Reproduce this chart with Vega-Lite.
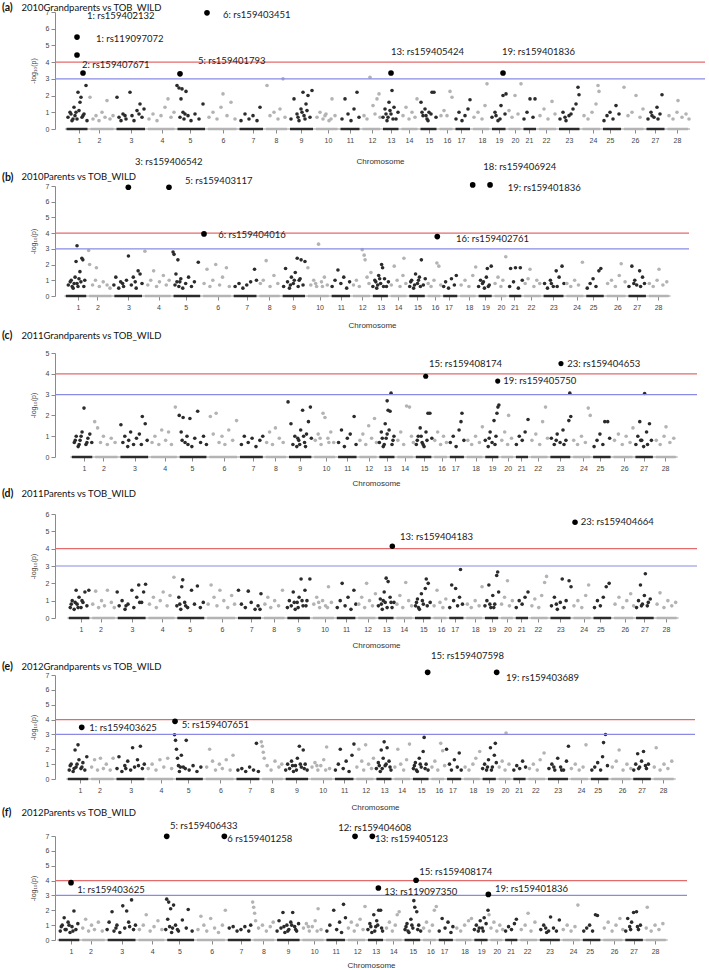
{
"$schema": "https://vega.github.io/schema/vega-lite/v6.json",
"padding": {"left": 2, "top": 2, "right": 2, "bottom": 0},
"bounds": "flush",
"spacing": 57,
"config": {
 "font": "Lato",
 "view": {"stroke": null},
 "axisX": {"domain": false, "grid": false, "tickSize": 4, "tickColor": "#8a8a8a", "labelFontSize": 7, "labelColor": "#444", "labelPadding": 3, "titleFontSize": 8, "titleFontWeight": "normal", "titleColor": "#333", "labelFont": "Liberation Sans", "titleFont": "Liberation Sans", "labelFlush": false, "labelOverlap": false},
 "axisY": {"grid": false, "tickSize": 4, "tickColor": "#8a8a8a", "domainColor": "#8a8a8a", "labelFontSize": 7, "labelColor": "#444", "labelPadding": 2, "titleFontSize": 7, "titleFontWeight": "normal", "titleColor": "#444", "titlePadding": 9, "labelFont": "Liberation Sans", "titleFont": "Liberation Sans", "labelOverlap": false},
 "title": {"anchor": "start", "frame": "group", "dx": -53, "font": "Lato", "fontSize": 10.5, "fontWeight": "bold", "color": "#111", "subtitleFont": "Lato", "subtitleFontSize": 9.5, "subtitleColor": "#111", "subtitlePadding": -11}
},
"datasets": {
"seg": [{"x":11.5,"x2":32.5},{"x":35.5,"x2":58.5},{"x":61.5,"x2":90},{"x":93,"x2":119.5},{"x":122.5,"x2":150},{"x":153,"x2":181.5},{"x":184.5,"x2":208},{"x":211,"x2":232},{"x":235,"x2":258},{"x":261,"x2":282.5},{"x":285.5,"x2":304.5},{"x":307.5,"x2":325},{"x":328,"x2":343.5},{"x":346.5,"x2":362.5},{"x":365.5,"x2":381.5},{"x":384.5,"x2":397.5},{"x":400.5,"x2":415},{"x":418,"x2":434},{"x":437,"x2":450.5},{"x":453.5,"x2":465.5},{"x":468.5,"x2":481},{"x":484,"x2":501},{"x":504,"x2":524.5},{"x":527.5,"x2":545},{"x":548,"x2":566},{"x":569,"x2":588.5},{"x":591.5,"x2":609.5},{"x":612.5,"x2":633}],
"pa": [{"x":13,"y":0.7},{"x":15,"y":1.0},{"x":17,"y":0.5},{"x":19,"y":1.3},{"x":20,"y":0.8},{"x":22,"y":0.6},{"x":23,"y":2.2},{"x":24,"y":1.1},{"x":25,"y":1.6},{"x":26,"y":1.9},{"x":27,"y":0.7},{"x":29,"y":0.9},{"x":31,"y":2.6},{"x":32,"y":0.5},{"x":16,"y":0.9},{"x":18,"y":0.6},{"x":21,"y":1.0},{"x":28,"y":0.8},
{"x":35,"y":1.9},{"x":38,"y":0.6},{"x":41,"y":0.8},{"x":44,"y":0.5},{"x":47,"y":1.0},{"x":50,"y":0.7},{"x":52,"y":1.7},{"x":55,"y":0.6},{"x":58,"y":0.8},
{"x":62,"y":1.9},{"x":64,"y":0.7},{"x":66,"y":0.5},{"x":68,"y":0.9},{"x":71,"y":0.6},{"x":75,"y":2.2},{"x":77,"y":0.8},{"x":79,"y":0.5},{"x":82,"y":1.1},{"x":85,"y":1.5},{"x":87,"y":0.7},{"x":89,"y":1.2},{"x":70,"y":0.8},{"x":84,"y":0.9},
{"x":94,"y":0.6},{"x":98,"y":0.9},{"x":102,"y":0.5},{"x":106,"y":0.8},{"x":110,"y":1.3},{"x":113,"y":1.8},{"x":116,"y":0.7},{"x":119,"y":1.0},
{"x":122,"y":2.6},{"x":124,"y":2.45},{"x":126,"y":1.8},{"x":127,"y":2.4},{"x":128,"y":1.0},{"x":129,"y":0.6},{"x":131,"y":2.25},{"x":133,"y":0.8},{"x":136,"y":0.5},{"x":140,"y":0.9},{"x":144,"y":0.6},{"x":148,"y":1.5},{"x":125,"y":0.7},{"x":130,"y":0.9},
{"x":154,"y":0.7},{"x":158,"y":1.0},{"x":162,"y":0.6},{"x":166,"y":1.3},{"x":168,"y":2.1},{"x":172,"y":0.8},{"x":176,"y":1.6},{"x":180,"y":0.6},
{"x":186,"y":0.5},{"x":190,"y":0.9},{"x":194,"y":0.6},{"x":198,"y":0.8},{"x":202,"y":0.5},{"x":205,"y":1.3},
{"x":212,"y":2.6},{"x":215,"y":0.8},{"x":219,"y":1.0},{"x":223,"y":0.6},{"x":225,"y":1.2},{"x":228,"y":3.0},{"x":230,"y":0.7},
{"x":236,"y":0.6},{"x":239,"y":1.8},{"x":242,"y":0.9},{"x":244,"y":0.5},{"x":246,"y":1.2},{"x":248,"y":2.2},{"x":249,"y":0.8},{"x":251,"y":1.5},{"x":253,"y":2.0},{"x":255,"y":0.7},{"x":257,"y":2.3},{"x":243,"y":0.7},{"x":247,"y":1.0},{"x":250,"y":0.6},{"x":252,"y":1.1},
{"x":262,"y":0.7},{"x":265,"y":1.0},{"x":268,"y":0.6},{"x":271,"y":0.9},{"x":274,"y":0.5},{"x":277,"y":1.8},{"x":280,"y":0.8},{"x":270,"y":0.8},{"x":276,"y":0.6},
{"x":287,"y":0.6},{"x":290,"y":1.8},{"x":293,"y":0.9},{"x":296,"y":0.5},{"x":299,"y":1.2},{"x":302,"y":2.2},{"x":304,"y":0.7},
{"x":309,"y":0.8},{"x":312,"y":0.6},{"x":315,"y":3.1},{"x":318,"y":1.4},{"x":320,"y":0.9},{"x":322,"y":1.8},{"x":324,"y":2.1},{"x":325,"y":0.7},
{"x":328,"y":0.7},{"x":330,"y":1.2},{"x":332,"y":0.5},{"x":334,"y":1.6},{"x":336,"y":0.9},{"x":337,"y":2.3},{"x":339,"y":1.3},{"x":341,"y":0.6},{"x":343,"y":1.0},{"x":331,"y":0.9},{"x":333,"y":0.7},{"x":335,"y":1.1},{"x":338,"y":0.6},
{"x":348,"y":0.8},{"x":351,"y":1.3},{"x":354,"y":0.6},{"x":357,"y":1.0},{"x":360,"y":0.7},{"x":362,"y":1.8},
{"x":366,"y":1.6},{"x":368,"y":0.8},{"x":370,"y":1.2},{"x":372,"y":0.6},{"x":374,"y":1.0},{"x":377,"y":2.2},{"x":379,"y":2.2},{"x":381,"y":0.7},{"x":367,"y":1.0},{"x":371,"y":0.8},{"x":373,"y":0.5},{"x":376,"y":0.9},
{"x":386,"y":0.8},{"x":389,"y":1.1},{"x":392,"y":0.8},{"x":395,"y":2.25},{"x":397,"y":1.9},
{"x":401,"y":0.6},{"x":404,"y":1.0},{"x":407,"y":0.5},{"x":410,"y":0.8},{"x":413,"y":1.2},{"x":415,"y":1.75},
{"x":419,"y":0.7},{"x":423,"y":1.0},{"x":427,"y":0.6},{"x":430,"y":1.4},{"x":432,"y":2.7},
{"x":437,"y":0.7},{"x":440,"y":1.0},{"x":443,"y":0.5},{"x":446,"y":1.4},{"x":448,"y":2.0},{"x":450,"y":0.9},{"x":451,"y":2.1},{"x":441,"y":0.8},{"x":445,"y":0.6},
{"x":454,"y":1.1},{"x":457,"y":0.7},{"x":460,"y":2.0},{"x":463,"y":0.9},{"x":466,"y":2.7},
{"x":469,"y":0.6},{"x":472,"y":1.0},{"x":475,"y":1.8},{"x":478,"y":0.7},{"x":480,"y":1.8},
{"x":485,"y":0.8},{"x":489,"y":1.2},{"x":493,"y":0.6},{"x":497,"y":1.65},{"x":500,"y":0.9},
{"x":505,"y":0.6},{"x":508,"y":1.0},{"x":511,"y":0.5},{"x":514,"y":0.8},{"x":518,"y":1.2},{"x":521,"y":1.5},{"x":523,"y":2.5},{"x":524,"y":2.05},{"x":510,"y":0.7},{"x":516,"y":0.9},
{"x":529,"y":0.8},{"x":533,"y":0.6},{"x":537,"y":1.0},{"x":541,"y":1.5},{"x":543,"y":2.6},{"x":544,"y":2.25},
{"x":549,"y":0.5},{"x":552,"y":0.8},{"x":555,"y":1.0},{"x":558,"y":0.6},{"x":561,"y":1.4},{"x":564,"y":0.9},
{"x":569,"y":2.5},{"x":573,"y":0.8},{"x":577,"y":1.0},{"x":581,"y":2.0},{"x":585,"y":0.7},{"x":588,"y":1.2},
{"x":593,"y":0.6},{"x":596,"y":1.0},{"x":599,"y":0.7},{"x":602,"y":1.3},{"x":605,"y":0.9},{"x":607,"y":2.05},{"x":597,"y":0.8},{"x":603,"y":0.6},
{"x":614,"y":0.8},{"x":618,"y":0.6},{"x":622,"y":1.0},{"x":623,"y":1.7},{"x":627,"y":0.7},{"x":631,"y":0.9},{"x":634,"y":0.6}],
"ha": [{"x":22,"y":5.5},{"x":22,"y":4.43},{"x":28,"y":3.35},{"x":125,"y":3.3},{"x":152,"y":6.95},{"x":336,"y":3.35},{"x":448,"y":3.35}],
"la": [{"t":"1: rs159402132","x":32,"y":6.76},{"t":"6: rs159403451","x":168,"y":6.82},{"t":"1: rs119097072","x":41,"y":5.39},{"t":"2: rs159407671","x":27,"y":3.83},{"t":"5: rs159401793","x":143,"y":4.07},{"t":"13: rs159405424","x":336,"y":4.6},{"t":"19: rs159401836","x":447,"y":4.6}],
"pb": [{"x":14,"y":0.7},{"x":17,"y":1.0},{"x":19,"y":0.5},{"x":20,"y":0.8},{"x":22,"y":2.2},{"x":23,"y":3.2},{"x":24,"y":0.6},{"x":25,"y":1.1},{"x":26,"y":1.55},{"x":27,"y":0.9},{"x":28,"y":2.4},{"x":29,"y":2.3},{"x":30,"y":0.6},{"x":31,"y":1.0},{"x":16,"y":0.9},{"x":18,"y":0.6},{"x":21,"y":1.2},{"x":23,"y":0.8},
{"x":35,"y":2.9},{"x":36,"y":2.0},{"x":39,"y":0.7},{"x":42,"y":1.0},{"x":43,"y":1.8},{"x":46,"y":0.6},{"x":50,"y":0.9},{"x":54,"y":0.7},{"x":57,"y":0.5},
{"x":61,"y":0.7},{"x":63,"y":1.2},{"x":66,"y":0.5},{"x":68,"y":0.9},{"x":71,"y":0.6},{"x":74,"y":1.0},{"x":76,"y":2.55},{"x":79,"y":0.7},{"x":81,"y":1.2},{"x":84,"y":0.5},{"x":86,"y":1.6},{"x":88,"y":1.4},{"x":90,"y":0.8},{"x":70,"y":0.8},{"x":83,"y":0.9},
{"x":93,"y":2.85},{"x":96,"y":0.7},{"x":99,"y":1.0},{"x":102,"y":1.6},{"x":105,"y":0.6},{"x":108,"y":0.9},{"x":112,"y":1.3},{"x":115,"y":0.7},{"x":118,"y":1.0},
{"x":122,"y":2.8},{"x":123,"y":2.65},{"x":125,"y":1.4},{"x":126,"y":0.9},{"x":127,"y":2.3},{"x":128,"y":0.6},{"x":130,"y":1.1},{"x":132,"y":0.5},{"x":135,"y":0.8},{"x":138,"y":1.2},{"x":141,"y":0.6},{"x":144,"y":0.9},{"x":148,"y":2.15},{"x":124,"y":0.7},{"x":129,"y":0.9},
{"x":154,"y":0.8},{"x":157,"y":1.7},{"x":160,"y":0.6},{"x":163,"y":1.0},{"x":166,"y":2.0},{"x":170,"y":0.7},{"x":173,"y":1.2},{"x":177,"y":1.8},{"x":180,"y":0.6},
{"x":186,"y":0.6},{"x":190,"y":0.8},{"x":194,"y":0.5},{"x":198,"y":0.7},{"x":202,"y":0.9},{"x":206,"y":1.7},{"x":208,"y":1.0},
{"x":212,"y":0.8},{"x":215,"y":1.0},{"x":218,"y":2.25},{"x":222,"y":0.6},{"x":226,"y":1.3},{"x":230,"y":0.8},
{"x":236,"y":0.6},{"x":238,"y":1.75},{"x":240,"y":0.9},{"x":242,"y":0.5},{"x":244,"y":1.2},{"x":246,"y":0.8},{"x":248,"y":1.5},{"x":250,"y":2.4},{"x":252,"y":1.0},{"x":254,"y":2.3},{"x":256,"y":0.7},{"x":258,"y":2.2},{"x":243,"y":0.7},{"x":247,"y":1.0},{"x":251,"y":0.6},{"x":253,"y":1.1},
{"x":261,"y":1.8},{"x":264,"y":0.7},{"x":267,"y":1.0},{"x":270,"y":0.6},{"x":272,"y":3.3},{"x":275,"y":0.9},{"x":278,"y":1.2},{"x":281,"y":0.7},{"x":269,"y":0.8},{"x":276,"y":0.6},
{"x":286,"y":0.6},{"x":289,"y":1.0},{"x":292,"y":1.65},{"x":295,"y":0.8},{"x":298,"y":1.2},{"x":301,"y":0.5},{"x":304,"y":0.9},
{"x":308,"y":0.7},{"x":311,"y":1.0},{"x":314,"y":0.6},{"x":317,"y":2.95},{"x":319,"y":2.6},{"x":320,"y":2.3},{"x":322,"y":1.2},{"x":324,"y":0.8},{"x":326,"y":1.5},
{"x":328,"y":0.6},{"x":330,"y":1.0},{"x":332,"y":0.5},{"x":334,"y":1.3},{"x":336,"y":0.8},{"x":337,"y":2.0},{"x":338,"y":1.8},{"x":340,"y":1.1},{"x":342,"y":0.6},{"x":344,"y":0.9},{"x":331,"y":0.9},{"x":333,"y":0.7},{"x":335,"y":1.1},{"x":339,"y":0.6},
{"x":347,"y":0.7},{"x":350,"y":1.9},{"x":353,"y":1.0},{"x":356,"y":0.6},{"x":359,"y":1.3},{"x":360,"y":2.4},{"x":362,"y":0.8},
{"x":366,"y":0.6},{"x":368,"y":1.0},{"x":370,"y":0.5},{"x":372,"y":1.4},{"x":374,"y":0.8},{"x":376,"y":1.2},{"x":378,"y":2.3},{"x":380,"y":0.7},{"x":382,"y":1.1},{"x":367,"y":0.9},{"x":371,"y":0.7},{"x":375,"y":1.0},{"x":377,"y":0.6},
{"x":385,"y":0.8},{"x":388,"y":0.6},{"x":391,"y":1.0},{"x":394,"y":2.1},{"x":396,"y":1.9},{"x":398,"y":0.7},
{"x":401,"y":0.6},{"x":403,"y":0.9},{"x":406,"y":0.5},{"x":409,"y":1.1},{"x":412,"y":0.7},{"x":414,"y":1.3},
{"x":419,"y":0.7},{"x":423,"y":1.0},{"x":427,"y":0.6},{"x":431,"y":1.3},{"x":434,"y":1.85},
{"x":437,"y":0.6},{"x":439,"y":1.0},{"x":441,"y":0.8},{"x":443,"y":0.5},{"x":445,"y":1.2},{"x":446,"y":1.75},{"x":448,"y":0.7},{"x":450,"y":1.9},{"x":442,"y":0.9},{"x":447,"y":0.6},
{"x":454,"y":0.8},{"x":457,"y":1.2},{"x":460,"y":0.6},{"x":462,"y":1.0},{"x":465,"y":2.5},
{"x":469,"y":0.6},{"x":470,"y":1.75},{"x":473,"y":0.9},{"x":475,"y":1.8},{"x":478,"y":0.5},{"x":480,"y":1.8},{"x":482,"y":1.0},
{"x":485,"y":0.8},{"x":488,"y":1.1},{"x":490,"y":1.7},{"x":494,"y":0.6},{"x":497,"y":1.0},{"x":500,"y":0.8},
{"x":505,"y":0.8},{"x":508,"y":0.5},{"x":511,"y":1.0},{"x":514,"y":0.6},{"x":517,"y":1.6},{"x":520,"y":1.2},{"x":523,"y":1.9},{"x":525,"y":0.8},{"x":512,"y":0.8},{"x":518,"y":0.6},
{"x":528,"y":0.8},{"x":532,"y":0.6},{"x":536,"y":1.0},{"x":540,"y":0.7},{"x":544,"y":2.15},
{"x":549,"y":0.5},{"x":552,"y":0.8},{"x":555,"y":1.1},{"x":558,"y":0.6},{"x":561,"y":1.6},{"x":563,"y":1.75},
{"x":570,"y":0.8},{"x":574,"y":1.0},{"x":578,"y":0.6},{"x":582,"y":1.3},{"x":584,"y":2.05},{"x":588,"y":0.9},
{"x":592,"y":0.6},{"x":595,"y":1.9},{"x":598,"y":1.0},{"x":600,"y":0.7},{"x":603,"y":1.6},{"x":606,"y":1.2},{"x":608,"y":0.8},{"x":597,"y":0.8},{"x":604,"y":0.6},
{"x":613,"y":0.8},{"x":617,"y":0.6},{"x":621,"y":1.0},{"x":623,"y":1.7},{"x":627,"y":0.7},{"x":631,"y":0.9}],
"hb": [{"x":75.9,"y":6.92},{"x":117.8,"y":6.92},{"x":153.9,"y":3.95},{"x":430.9,"y":7.07},{"x":448.8,"y":7.07},{"x":394.4,"y":3.78}],
"lb": [{"t":"3: rs159406542","x":82.8,"y":8.53},{"t":"5: rs159403117","x":134.3,"y":7.34},{"t":"6: rs159404016","x":168.6,"y":3.88},{"t":"18: rs159406924","x":441.9,"y":8.23},{"t":"19: rs159401836","x":467,"y":6.9},{"t":"16: rs159402761","x":413.7,"y":3.63}],
"pc": [{"x":14,"y":0.7},{"x":16,"y":1.0},{"x":18,"y":0.5},{"x":20,"y":0.8},{"x":22,"y":1.2},{"x":24,"y":2.35},{"x":26,"y":0.6},{"x":28,"y":0.9},{"x":30,"y":1.1},{"x":32,"y":0.7},{"x":15,"y":0.8},{"x":19,"y":0.6},{"x":21,"y":1.0},{"x":27,"y":0.7},
{"x":35,"y":1.7},{"x":38,"y":1.4},{"x":41,"y":0.7},{"x":44,"y":1.0},{"x":48,"y":0.6},{"x":52,"y":0.9},{"x":56,"y":0.7},
{"x":62,"y":1.55},{"x":64,"y":0.7},{"x":66,"y":1.0},{"x":69,"y":0.5},{"x":72,"y":1.2},{"x":75,"y":0.6},{"x":78,"y":0.9},{"x":81,"y":1.1},{"x":84,"y":1.95},{"x":87,"y":1.6},{"x":89,"y":0.8},{"x":70,"y":0.8},{"x":83,"y":0.6},
{"x":94,"y":0.7},{"x":97,"y":1.0},{"x":101,"y":0.6},{"x":104,"y":1.3},{"x":108,"y":0.8},{"x":111,"y":1.2},{"x":114,"y":0.6},{"x":118,"y":2.4},
{"x":122,"y":2.0},{"x":124,"y":1.2},{"x":126,"y":1.9},{"x":128,"y":0.7},{"x":130,"y":1.0},{"x":133,"y":1.85},{"x":135,"y":0.5},{"x":138,"y":0.9},{"x":141,"y":2.2},{"x":144,"y":0.7},{"x":147,"y":1.0},{"x":150,"y":0.6},{"x":125,"y":0.8},{"x":131,"y":0.6},
{"x":154,"y":1.95},{"x":157,"y":1.1},{"x":160,"y":2.1},{"x":163,"y":0.7},{"x":166,"y":1.0},{"x":169,"y":0.6},{"x":173,"y":1.3},{"x":177,"y":0.8},{"x":181,"y":1.75},
{"x":186,"y":0.6},{"x":189,"y":1.0},{"x":193,"y":0.7},{"x":197,"y":0.9},{"x":201,"y":0.5},{"x":205,"y":0.8},{"x":208,"y":1.0},
{"x":212,"y":0.7},{"x":215,"y":1.2},{"x":218,"y":0.6},{"x":221,"y":1.4},{"x":225,"y":0.9},{"x":229,"y":0.7},
{"x":234,"y":2.65},{"x":237,"y":1.6},{"x":239,"y":0.6},{"x":241,"y":1.0},{"x":243,"y":0.5},{"x":245,"y":0.8},{"x":247,"y":1.3},{"x":249,"y":2.25},{"x":251,"y":0.7},{"x":253,"y":1.1},{"x":255,"y":1.7},{"x":257,"y":2.4},{"x":258,"y":0.9},{"x":244,"y":0.9},{"x":246,"y":0.6},{"x":250,"y":1.0},{"x":252,"y":0.5},
{"x":262,"y":0.8},{"x":265,"y":1.1},{"x":268,"y":0.6},{"x":270,"y":2.1},{"x":272,"y":1.9},{"x":275,"y":0.9},{"x":278,"y":1.2},{"x":281,"y":0.7},{"x":267,"y":0.9},{"x":276,"y":0.7},
{"x":286,"y":0.7},{"x":289,"y":1.3},{"x":292,"y":0.5},{"x":295,"y":0.9},{"x":298,"y":1.1},{"x":302,"y":1.95},{"x":304,"y":0.6},
{"x":308,"y":0.8},{"x":311,"y":1.1},{"x":314,"y":0.6},{"x":317,"y":1.5},{"x":320,"y":0.9},{"x":323,"y":1.85},{"x":325,"y":0.7},
{"x":328,"y":0.7},{"x":330,"y":1.2},{"x":332,"y":0.5},{"x":334,"y":1.6},{"x":335,"y":0.9},{"x":336,"y":2.7},{"x":337,"y":2.25},{"x":338,"y":1.3},{"x":339,"y":2.2},{"x":340,"y":3.07},{"x":341,"y":0.6},{"x":343,"y":1.0},{"x":331,"y":0.9},{"x":333,"y":0.6},{"x":336,"y":1.1},{"x":342,"y":0.8},
{"x":347,"y":0.8},{"x":350,"y":1.2},{"x":353,"y":0.6},{"x":356,"y":2.45},{"x":359,"y":2.4},{"x":361,"y":1.0},{"x":363,"y":0.7},
{"x":366,"y":0.6},{"x":368,"y":1.0},{"x":370,"y":1.4},{"x":372,"y":0.7},{"x":374,"y":0.5},{"x":376,"y":1.2},{"x":378,"y":2.1},{"x":380,"y":2.1},{"x":382,"y":0.9},{"x":367,"y":0.8},{"x":371,"y":1.0},{"x":373,"y":0.6},{"x":377,"y":0.8},
{"x":385,"y":0.8},{"x":388,"y":1.2},{"x":391,"y":0.6},{"x":394,"y":1.0},{"x":397,"y":0.7},
{"x":401,"y":0.7},{"x":404,"y":1.0},{"x":407,"y":0.5},{"x":410,"y":1.3},{"x":412,"y":1.7},{"x":413,"y":2.1},{"x":415,"y":0.8},
{"x":419,"y":0.8},{"x":423,"y":0.6},{"x":427,"y":1.0},{"x":431,"y":0.7},{"x":434,"y":1.45},
{"x":437,"y":0.8},{"x":440,"y":0.5},{"x":442,"y":1.2},{"x":444,"y":0.7},{"x":446,"y":1.75},{"x":448,"y":1.0},{"x":449,"y":2.1},{"x":450,"y":2.4},{"x":451,"y":2.5},{"x":441,"y":0.9},{"x":447,"y":0.6},
{"x":454,"y":0.8},{"x":457,"y":1.2},{"x":460,"y":0.6},{"x":461,"y":2.0},{"x":464,"y":0.9},
{"x":469,"y":0.6},{"x":472,"y":1.0},{"x":475,"y":0.8},{"x":478,"y":1.2},{"x":481,"y":1.8},
{"x":485,"y":0.8},{"x":489,"y":1.1},{"x":493,"y":0.6},{"x":496,"y":1.7},{"x":499,"y":2.4},{"x":501,"y":0.9},
{"x":505,"y":0.9},{"x":508,"y":0.6},{"x":511,"y":1.1},{"x":514,"y":0.7},{"x":517,"y":1.3},{"x":520,"y":0.8},{"x":523,"y":1.75},{"x":524,"y":3.07},{"x":525,"y":1.95},{"x":510,"y":0.8},{"x":518,"y":0.6},
{"x":528,"y":0.8},{"x":532,"y":0.6},{"x":536,"y":1.0},{"x":540,"y":0.7},{"x":543,"y":2.35},{"x":545,"y":2.0},
{"x":549,"y":0.5},{"x":552,"y":0.8},{"x":555,"y":1.1},{"x":558,"y":0.6},{"x":560,"y":1.7},{"x":563,"y":1.7},{"x":565,"y":0.9},
{"x":570,"y":0.8},{"x":574,"y":1.1},{"x":578,"y":0.6},{"x":582,"y":1.0},{"x":586,"y":0.7},{"x":589,"y":1.4},
{"x":592,"y":0.6},{"x":594,"y":1.0},{"x":596,"y":1.7},{"x":598,"y":0.8},{"x":600,"y":0.5},{"x":601,"y":3.05},{"x":603,"y":1.2},{"x":606,"y":1.6},{"x":608,"y":0.8},{"x":597,"y":0.8},{"x":604,"y":0.6},
{"x":613,"y":0.8},{"x":617,"y":0.6},{"x":621,"y":1.0},{"x":623,"y":1.45},{"x":627,"y":0.7},{"x":631,"y":0.9}],
"hc": [{"x":375.7,"y":3.88},{"x":449.8,"y":3.65},{"x":514.9,"y":4.49}],
"lc": [{"t":"15: rs159408174","x":379.1,"y":4.46},{"t":"19: rs159405750","x":455.6,"y":3.65},{"t":"23: rs159404653","x":521.4,"y":4.49}],
"pd": [{"x":13,"y":0.6},{"x":15,"y":1.0},{"x":17,"y":0.5},{"x":19,"y":1.6},{"x":20,"y":0.8},{"x":22,"y":1.2},{"x":24,"y":0.6},{"x":26,"y":0.9},{"x":28,"y":1.5},{"x":30,"y":0.7},{"x":32,"y":1.6},{"x":14,"y":0.8},{"x":18,"y":0.9},{"x":21,"y":0.6},{"x":25,"y":1.0},
{"x":36,"y":0.8},{"x":39,"y":1.55},{"x":42,"y":0.6},{"x":45,"y":1.0},{"x":48,"y":0.7},{"x":51,"y":1.6},{"x":55,"y":0.9},{"x":58,"y":0.6},
{"x":61,"y":1.5},{"x":63,"y":0.7},{"x":66,"y":1.0},{"x":69,"y":0.5},{"x":72,"y":0.8},{"x":76,"y":1.6},{"x":78,"y":0.6},{"x":81,"y":1.2},{"x":83,"y":1.9},{"x":86,"y":0.9},{"x":88,"y":1.5},{"x":90,"y":1.95},{"x":70,"y":0.7},{"x":84,"y":0.9},
{"x":94,"y":0.8},{"x":98,"y":1.2},{"x":101,"y":0.6},{"x":105,"y":1.0},{"x":108,"y":1.5},{"x":112,"y":0.7},{"x":115,"y":1.3},{"x":119,"y":2.35},
{"x":122,"y":0.7},{"x":124,"y":1.2},{"x":126,"y":0.5},{"x":127,"y":1.8},{"x":128,"y":2.2},{"x":130,"y":0.9},{"x":133,"y":0.6},{"x":137,"y":1.6},{"x":140,"y":0.8},{"x":143,"y":1.85},{"x":146,"y":0.6},{"x":149,"y":0.9},{"x":125,"y":0.8},{"x":131,"y":0.7},
{"x":154,"y":0.8},{"x":157,"y":1.9},{"x":160,"y":1.2},{"x":163,"y":0.7},{"x":166,"y":1.6},{"x":170,"y":1.0},{"x":174,"y":0.6},{"x":178,"y":1.3},{"x":181,"y":0.8},
{"x":185,"y":1.6},{"x":188,"y":0.8},{"x":192,"y":0.6},{"x":195,"y":1.55},{"x":198,"y":0.9},{"x":202,"y":0.5},{"x":205,"y":0.7},{"x":207,"y":0.5},{"x":208,"y":1.4},
{"x":212,"y":0.8},{"x":215,"y":1.2},{"x":218,"y":0.6},{"x":222,"y":1.0},{"x":226,"y":0.7},{"x":230,"y":1.6},
{"x":235,"y":0.6},{"x":237,"y":1.0},{"x":239,"y":0.7},{"x":241,"y":1.5},{"x":243,"y":0.5},{"x":245,"y":0.9},{"x":247,"y":1.2},{"x":249,"y":2.25},{"x":251,"y":0.7},{"x":253,"y":1.6},{"x":255,"y":1.0},{"x":258,"y":2.25},{"x":242,"y":0.9},{"x":246,"y":0.6},{"x":250,"y":1.0},{"x":254,"y":0.7},
{"x":262,"y":0.8},{"x":265,"y":1.2},{"x":268,"y":0.6},{"x":271,"y":1.0},{"x":274,"y":0.7},{"x":277,"y":1.8},{"x":280,"y":0.9},{"x":267,"y":0.9},{"x":276,"y":0.6},
{"x":286,"y":0.6},{"x":289,"y":1.0},{"x":291,"y":2.0},{"x":294,"y":0.7},{"x":297,"y":1.2},{"x":300,"y":0.5},{"x":303,"y":1.6},{"x":305,"y":0.8},
{"x":308,"y":0.8},{"x":311,"y":1.2},{"x":314,"y":0.6},{"x":316,"y":2.0},{"x":319,"y":1.0},{"x":322,"y":0.7},{"x":325,"y":1.4},
{"x":328,"y":0.7},{"x":330,"y":1.1},{"x":332,"y":0.5},{"x":334,"y":1.5},{"x":335,"y":0.9},{"x":336,"y":2.3},{"x":338,"y":2.1},{"x":340,"y":1.2},{"x":342,"y":0.6},{"x":344,"y":0.9},{"x":331,"y":0.8},{"x":333,"y":1.0},{"x":337,"y":0.6},{"x":341,"y":0.9},
{"x":347,"y":0.8},{"x":350,"y":1.3},{"x":353,"y":0.6},{"x":356,"y":2.05},{"x":359,"y":1.0},{"x":362,"y":0.7},
{"x":366,"y":0.7},{"x":368,"y":1.1},{"x":370,"y":0.5},{"x":372,"y":1.4},{"x":374,"y":0.8},{"x":376,"y":1.7},{"x":377,"y":2.25},{"x":379,"y":2.0},{"x":381,"y":0.9},{"x":367,"y":0.9},{"x":369,"y":0.6},{"x":373,"y":1.0},{"x":378,"y":0.7},
{"x":385,"y":0.7},{"x":388,"y":1.6},{"x":391,"y":0.9},{"x":394,"y":0.6},{"x":397,"y":1.1},
{"x":401,"y":0.6},{"x":403,"y":1.9},{"x":405,"y":1.0},{"x":407,"y":1.7},{"x":409,"y":0.7},{"x":411,"y":1.2},{"x":412,"y":2.8},{"x":414,"y":0.8},
{"x":419,"y":0.8},{"x":423,"y":0.6},{"x":427,"y":1.0},{"x":431,"y":0.7},{"x":434,"y":1.8},
{"x":437,"y":0.7},{"x":439,"y":1.0},{"x":441,"y":1.9},{"x":443,"y":0.6},{"x":445,"y":1.3},{"x":447,"y":0.8},{"x":449,"y":2.45},{"x":450,"y":2.65},{"x":451,"y":1.5},{"x":442,"y":0.8},{"x":446,"y":0.6},
{"x":454,"y":0.8},{"x":457,"y":1.2},{"x":460,"y":2.15},{"x":462,"y":0.7},{"x":465,"y":1.0},
{"x":469,"y":0.6},{"x":472,"y":1.0},{"x":475,"y":0.8},{"x":478,"y":1.2},{"x":481,"y":1.5},
{"x":485,"y":0.7},{"x":488,"y":1.1},{"x":492,"y":0.6},{"x":495,"y":1.3},{"x":498,"y":2.05},{"x":500,"y":2.4},
{"x":505,"y":0.7},{"x":508,"y":1.2},{"x":511,"y":0.5},{"x":514,"y":0.9},{"x":516,"y":2.25},{"x":520,"y":1.0},{"x":523,"y":2.15},{"x":525,"y":1.8},{"x":510,"y":0.8},{"x":518,"y":0.6},
{"x":528,"y":0.7},{"x":532,"y":1.0},{"x":536,"y":0.6},{"x":540,"y":1.3},{"x":543,"y":1.9},
{"x":549,"y":0.6},{"x":552,"y":1.0},{"x":555,"y":0.7},{"x":558,"y":1.2},{"x":561,"y":1.8},{"x":564,"y":2.0},
{"x":570,"y":0.8},{"x":574,"y":1.2},{"x":578,"y":0.6},{"x":582,"y":1.0},{"x":586,"y":1.4},{"x":589,"y":0.7},
{"x":592,"y":0.6},{"x":594,"y":1.0},{"x":596,"y":1.9},{"x":598,"y":0.8},{"x":600,"y":1.3},{"x":601,"y":2.55},{"x":603,"y":0.7},{"x":606,"y":1.1},{"x":597,"y":0.7},{"x":604,"y":0.9},
{"x":613,"y":0.8},{"x":616,"y":1.45},{"x":620,"y":0.6},{"x":624,"y":1.0},{"x":628,"y":0.7},{"x":632,"y":0.9}],
"hd": [{"x":342.3,"y":4.14},{"x":529.1,"y":5.52}],
"ld": [{"t":"13: rs159404183","x":350.2,"y":4.66},{"t":"23: rs159404664","x":534.9,"y":5.52}],
"pe": [{"x":13,"y":0.6},{"x":15,"y":1.0},{"x":17,"y":0.5},{"x":19,"y":1.95},{"x":20,"y":0.8},{"x":22,"y":2.3},{"x":23,"y":1.3},{"x":25,"y":0.7},{"x":27,"y":1.1},{"x":29,"y":0.6},{"x":31,"y":1.5},{"x":14,"y":0.9},{"x":18,"y":0.7},{"x":21,"y":1.0},{"x":26,"y":0.8},
{"x":36,"y":0.8},{"x":39,"y":1.3},{"x":42,"y":0.6},{"x":45,"y":1.4},{"x":48,"y":0.7},{"x":51,"y":1.0},{"x":55,"y":0.6},{"x":58,"y":1.4},
{"x":62,"y":0.7},{"x":64,"y":1.5},{"x":67,"y":0.5},{"x":70,"y":0.9},{"x":73,"y":1.2},{"x":76,"y":0.6},{"x":78,"y":2.1},{"x":80,"y":0.8},{"x":83,"y":1.3},{"x":86,"y":2.2},{"x":88,"y":0.7},{"x":90,"y":1.0},{"x":71,"y":0.7},{"x":84,"y":0.9},
{"x":94,"y":0.7},{"x":98,"y":1.0},{"x":102,"y":0.6},{"x":106,"y":1.3},{"x":110,"y":0.8},{"x":114,"y":1.4},{"x":118,"y":0.7},
{"x":121,"y":2.98},{"x":122,"y":2.6},{"x":123,"y":2.0},{"x":124,"y":1.4},{"x":125,"y":0.9},{"x":126,"y":0.5},{"x":128,"y":1.6},{"x":130,"y":0.8},{"x":133,"y":2.6},{"x":136,"y":0.6},{"x":140,"y":0.9},{"x":144,"y":0.5},{"x":148,"y":0.8},{"x":127,"y":0.8},{"x":132,"y":0.7},
{"x":154,"y":0.8},{"x":157,"y":2.0},{"x":160,"y":1.2},{"x":163,"y":0.6},{"x":167,"y":1.0},{"x":170,"y":0.7},{"x":174,"y":1.3},{"x":178,"y":0.6},{"x":181,"y":1.6},
{"x":186,"y":0.6},{"x":190,"y":0.7},{"x":194,"y":0.5},{"x":198,"y":0.8},{"x":202,"y":0.6},{"x":205,"y":2.4},{"x":207,"y":0.5},
{"x":210,"y":2.5},{"x":211,"y":2.2},{"x":212,"y":1.8},{"x":213,"y":1.4},{"x":216,"y":0.9},{"x":220,"y":0.6},{"x":224,"y":1.2},{"x":228,"y":0.8},{"x":231,"y":1.0},
{"x":235,"y":0.6},{"x":237,"y":1.0},{"x":239,"y":0.7},{"x":241,"y":1.2},{"x":243,"y":0.5},{"x":245,"y":0.9},{"x":247,"y":1.4},{"x":249,"y":2.2},{"x":251,"y":0.8},{"x":253,"y":1.95},{"x":255,"y":1.0},{"x":257,"y":0.6},{"x":242,"y":0.9},{"x":246,"y":0.6},{"x":250,"y":1.0},{"x":254,"y":0.7},
{"x":262,"y":0.8},{"x":265,"y":1.1},{"x":268,"y":0.6},{"x":271,"y":0.9},{"x":274,"y":1.3},{"x":277,"y":2.15},{"x":280,"y":0.7},{"x":267,"y":0.9},{"x":276,"y":0.6},
{"x":286,"y":0.6},{"x":289,"y":1.0},{"x":291,"y":2.0},{"x":294,"y":0.7},{"x":297,"y":1.2},{"x":300,"y":0.5},{"x":303,"y":1.6},{"x":305,"y":2.35},
{"x":308,"y":0.8},{"x":310,"y":2.0},{"x":313,"y":1.2},{"x":315,"y":0.6},{"x":317,"y":2.3},{"x":320,"y":1.0},{"x":323,"y":0.7},{"x":325,"y":1.4},
{"x":328,"y":0.7},{"x":330,"y":1.1},{"x":332,"y":0.5},{"x":333,"y":1.95},{"x":335,"y":1.4},{"x":336,"y":2.5},{"x":337,"y":0.9},{"x":339,"y":2.1},{"x":341,"y":1.2},{"x":343,"y":0.6},{"x":331,"y":0.9},{"x":334,"y":0.7},{"x":338,"y":1.0},{"x":342,"y":0.8},
{"x":347,"y":0.8},{"x":350,"y":2.0},{"x":353,"y":1.0},{"x":356,"y":0.6},{"x":359,"y":1.3},{"x":362,"y":2.35},
{"x":366,"y":0.7},{"x":368,"y":1.1},{"x":370,"y":0.5},{"x":372,"y":1.4},{"x":374,"y":0.8},{"x":376,"y":1.85},{"x":377,"y":2.8},{"x":379,"y":1.0},{"x":381,"y":0.6},{"x":367,"y":0.9},{"x":369,"y":0.6},{"x":373,"y":1.0},{"x":378,"y":0.7},
{"x":385,"y":0.8},{"x":388,"y":1.2},{"x":391,"y":0.6},{"x":394,"y":2.4},{"x":396,"y":1.9},{"x":398,"y":0.9},
{"x":400,"y":2.0},{"x":403,"y":1.0},{"x":405,"y":0.6},{"x":408,"y":1.3},{"x":411,"y":0.8},{"x":413,"y":1.75},{"x":415,"y":0.6},
{"x":419,"y":0.8},{"x":423,"y":0.6},{"x":427,"y":1.0},{"x":430,"y":1.4},{"x":434,"y":1.85},
{"x":437,"y":0.7},{"x":439,"y":1.0},{"x":441,"y":0.6},{"x":443,"y":1.3},{"x":445,"y":2.1},{"x":447,"y":0.8},{"x":449,"y":1.6},{"x":450,"y":2.4},{"x":451,"y":1.1},{"x":442,"y":0.8},{"x":446,"y":0.6},
{"x":454,"y":0.8},{"x":457,"y":1.2},{"x":460,"y":0.6},{"x":461,"y":3.1},{"x":464,"y":1.0},
{"x":469,"y":0.6},{"x":472,"y":0.9},{"x":475,"y":0.7},{"x":478,"y":1.2},{"x":481,"y":0.8},
{"x":485,"y":0.7},{"x":489,"y":1.0},{"x":493,"y":0.6},{"x":496,"y":1.3},{"x":500,"y":1.75},
{"x":505,"y":0.7},{"x":508,"y":1.0},{"x":511,"y":0.6},{"x":514,"y":1.4},{"x":517,"y":0.8},{"x":520,"y":0.6},{"x":523,"y":1.2},{"x":525,"y":2.2},{"x":510,"y":0.8},{"x":518,"y":0.6},
{"x":528,"y":0.7},{"x":532,"y":1.0},{"x":536,"y":0.6},{"x":540,"y":0.8},{"x":543,"y":2.3},
{"x":549,"y":0.6},{"x":552,"y":0.8},{"x":555,"y":1.1},{"x":558,"y":0.6},{"x":560,"y":1.5},{"x":561,"y":2.45},{"x":563,"y":3.0},{"x":565,"y":0.9},
{"x":570,"y":0.8},{"x":574,"y":1.2},{"x":577,"y":1.95},{"x":581,"y":0.6},{"x":585,"y":1.0},{"x":589,"y":0.7},
{"x":592,"y":0.6},{"x":594,"y":1.0},{"x":596,"y":1.7},{"x":598,"y":0.8},{"x":600,"y":1.2},{"x":602,"y":1.85},{"x":605,"y":0.7},{"x":607,"y":1.0},{"x":597,"y":0.7},{"x":604,"y":0.9},
{"x":613,"y":0.8},{"x":615,"y":2.1},{"x":619,"y":0.6},{"x":623,"y":1.0},{"x":627,"y":0.7},{"x":631,"y":1.2}],
"he": [{"x":25.8,"y":3.48},{"x":121.5,"y":3.88},{"x":380.6,"y":7.18},{"x":451.4,"y":7.18}],
"le": [{"t":"1: rs159403625","x":33.6,"y":3.43},{"t":"5: rs159407651","x":128.3,"y":3.65},{"t":"15: rs159407598","x":384,"y":8.26},{"t":"19: rs159403689","x":461,"y":6.8}],
"pf": [{"x":13,"y":0.6},{"x":15,"y":1.0},{"x":17,"y":1.5},{"x":19,"y":0.7},{"x":21,"y":1.2},{"x":23,"y":0.5},{"x":25,"y":0.9},{"x":27,"y":1.95},{"x":29,"y":0.7},{"x":31,"y":1.1},{"x":14,"y":0.9},{"x":18,"y":0.7},{"x":22,"y":1.0},{"x":26,"y":0.6},
{"x":36,"y":0.8},{"x":39,"y":1.4},{"x":42,"y":0.6},{"x":45,"y":1.0},{"x":48,"y":0.7},{"x":52,"y":1.2},{"x":56,"y":0.6},
{"x":61,"y":0.7},{"x":63,"y":1.2},{"x":66,"y":1.9},{"x":68,"y":0.6},{"x":71,"y":1.0},{"x":74,"y":0.5},{"x":77,"y":2.3},{"x":79,"y":0.8},{"x":81,"y":1.95},{"x":83,"y":1.2},{"x":86,"y":2.7},{"x":88,"y":0.7},{"x":90,"y":1.0},{"x":70,"y":0.8},{"x":84,"y":0.9},
{"x":94,"y":0.7},{"x":98,"y":1.0},{"x":101,"y":1.7},{"x":105,"y":0.6},{"x":109,"y":0.9},{"x":113,"y":1.3},{"x":117,"y":0.7},
{"x":121,"y":0.7},{"x":122,"y":2.75},{"x":123,"y":1.4},{"x":124,"y":2.55},{"x":125,"y":0.9},{"x":126,"y":2.1},{"x":127,"y":0.5},{"x":129,"y":2.35},{"x":131,"y":1.0},{"x":134,"y":0.6},{"x":138,"y":1.35},{"x":142,"y":0.8},{"x":144,"y":2.05},{"x":148,"y":0.6},{"x":128,"y":0.8},{"x":133,"y":0.7},
{"x":154,"y":0.7},{"x":157,"y":1.6},{"x":160,"y":1.0},{"x":163,"y":0.6},{"x":167,"y":1.45},{"x":171,"y":0.8},{"x":175,"y":0.5},{"x":179,"y":1.0},{"x":182,"y":2.0},
{"x":186,"y":0.8},{"x":190,"y":0.9},{"x":194,"y":0.6},{"x":198,"y":0.7},{"x":202,"y":0.9},{"x":206,"y":0.6},{"x":208,"y":1.0},
{"x":210,"y":2.55},{"x":211,"y":2.2},{"x":212,"y":1.8},{"x":213,"y":1.3},{"x":216,"y":0.8},{"x":220,"y":1.0},{"x":224,"y":0.6},{"x":228,"y":0.9},{"x":231,"y":1.2},
{"x":235,"y":0.6},{"x":237,"y":1.3},{"x":239,"y":0.8},{"x":241,"y":1.85},{"x":243,"y":0.5},{"x":245,"y":1.0},{"x":247,"y":0.7},{"x":249,"y":1.2},{"x":251,"y":1.85},{"x":253,"y":0.9},{"x":255,"y":0.6},{"x":257,"y":1.1},{"x":242,"y":0.9},{"x":246,"y":0.6},{"x":250,"y":1.0},{"x":254,"y":0.7},
{"x":262,"y":0.8},{"x":265,"y":1.1},{"x":268,"y":0.6},{"x":271,"y":0.9},{"x":274,"y":1.3},{"x":277,"y":2.1},{"x":280,"y":0.7},{"x":267,"y":0.9},{"x":276,"y":0.6},
{"x":286,"y":0.6},{"x":289,"y":1.0},{"x":293,"y":2.0},{"x":296,"y":0.7},{"x":299,"y":1.2},{"x":301,"y":0.5},{"x":303,"y":2.4},{"x":305,"y":1.5},
{"x":308,"y":0.8},{"x":311,"y":1.2},{"x":314,"y":0.6},{"x":317,"y":1.0},{"x":320,"y":1.4},{"x":323,"y":0.7},{"x":325,"y":2.25},
{"x":328,"y":0.7},{"x":330,"y":1.1},{"x":332,"y":0.5},{"x":334,"y":1.7},{"x":336,"y":0.9},{"x":337,"y":1.3},{"x":339,"y":2.0},{"x":341,"y":2.0},{"x":343,"y":0.6},{"x":331,"y":0.9},{"x":335,"y":0.6},{"x":338,"y":1.0},{"x":342,"y":0.8},
{"x":347,"y":0.8},{"x":350,"y":1.2},{"x":353,"y":0.6},{"x":356,"y":1.0},{"x":358,"y":1.7},{"x":360,"y":1.9},
{"x":366,"y":0.7},{"x":368,"y":1.1},{"x":370,"y":0.5},{"x":372,"y":1.4},{"x":374,"y":0.8},{"x":375,"y":2.65},{"x":376,"y":2.2},{"x":378,"y":1.9},{"x":380,"y":1.0},{"x":382,"y":0.6},{"x":367,"y":0.9},{"x":369,"y":0.6},{"x":373,"y":1.0},{"x":379,"y":0.7},
{"x":385,"y":0.8},{"x":388,"y":1.2},{"x":391,"y":0.6},{"x":394,"y":1.0},{"x":396,"y":2.0},{"x":398,"y":2.25},
{"x":401,"y":0.6},{"x":404,"y":1.45},{"x":407,"y":0.8},{"x":410,"y":1.2},{"x":413,"y":0.5},{"x":415,"y":0.9},
{"x":419,"y":0.8},{"x":423,"y":0.6},{"x":427,"y":1.0},{"x":431,"y":1.3},{"x":434,"y":1.45},
{"x":437,"y":0.7},{"x":439,"y":1.0},{"x":441,"y":0.6},{"x":443,"y":1.3},{"x":445,"y":0.8},{"x":447,"y":1.5},{"x":449,"y":1.1},{"x":451,"y":2.0},{"x":452,"y":1.7},{"x":442,"y":0.8},{"x":446,"y":0.6},
{"x":454,"y":0.8},{"x":457,"y":1.2},{"x":460,"y":0.6},{"x":463,"y":1.0},{"x":466,"y":0.7},
{"x":469,"y":0.6},{"x":472,"y":0.9},{"x":475,"y":0.7},{"x":478,"y":1.1},{"x":480,"y":1.4},
{"x":485,"y":0.7},{"x":489,"y":1.0},{"x":492,"y":1.8},{"x":495,"y":0.6},{"x":499,"y":1.2},
{"x":505,"y":0.7},{"x":508,"y":1.0},{"x":511,"y":0.5},{"x":515,"y":1.55},{"x":518,"y":0.8},{"x":521,"y":0.6},{"x":524,"y":1.35},{"x":510,"y":0.8},{"x":513,"y":0.6},
{"x":528,"y":0.7},{"x":532,"y":1.0},{"x":536,"y":0.6},{"x":540,"y":0.9},{"x":543,"y":2.35},
{"x":549,"y":0.6},{"x":552,"y":0.8},{"x":555,"y":1.0},{"x":558,"y":0.6},{"x":561,"y":1.7},{"x":563,"y":1.65},
{"x":570,"y":0.8},{"x":574,"y":1.2},{"x":578,"y":0.6},{"x":582,"y":1.0},{"x":586,"y":1.45},{"x":589,"y":0.7},
{"x":592,"y":0.6},{"x":594,"y":1.45},{"x":596,"y":0.9},{"x":598,"y":1.2},{"x":600,"y":1.85},{"x":603,"y":1.9},{"x":605,"y":0.7},{"x":607,"y":1.0},{"x":597,"y":0.7},{"x":604,"y":0.9},
{"x":613,"y":0.8},{"x":614,"y":2.2},{"x":618,"y":0.6},{"x":622,"y":1.0},{"x":626,"y":0.7},{"x":630,"y":1.1}],
"hf": [{"x":24,"y":3.86},{"x":122,"y":6.98},{"x":181,"y":6.98},{"x":314.8,"y":6.98},{"x":332.5,"y":6.98},{"x":377.3,"y":4.02},{"x":338.7,"y":3.5},{"x":451.3,"y":3.07}],
"lf": [{"t":"5: rs159406433","x":125.4,"y":7.67},{"t":"6 rs159401258","x":184,"y":6.78},{"t":"12: rs159404608","x":297.7,"y":7.56},{"t":"13: rs159405123","x":335.3,"y":6.78},{"t":"1: rs159403625","x":30.4,"y":3.39},{"t":"15: rs159408174","x":380.6,"y":4.58},{"t":"13: rs119097350","x":344.8,"y":3.23},{"t":"19: rs159401836","x":458.1,"y":3.41}]
},
"vconcat": [
{"width": 650, "height": 117,
 "title": {"text": "(a)", "subtitle": "\u200b\u00a0\u00a0\u00a0\u00a0\u00a0\u00a0\u00a0\u00a02010Grandparents vs TOB_WILD", "offset": -6},
 "layer": [
  {"data": {"values": [{"x": 10, "x2": 635, "y": 0}]}, "mark": {"type": "rule", "color": "#9a9a9a", "strokeWidth": 1},
   "encoding": {"x": {"field": "x", "type": "quantitative", "scale": {"domain": [0, 650], "nice": false, "zero": false}, "axis": {"values": [24,44,76,107,135,168,198,221,246,273,295,317,336,354,374,392,406,427,444,460,474,491,514,538,555,580,600,622], "tickCount": 40, "labelExpr": "indexof([24,44,76,107,135,168,198,221,246,273,295,317,336,354,374,392,406,427,444,460,474,491,514,538,555,580,600,622], datum.value) + 1", "labelOverlap": false, "titlePadding": 14.5, "title": "Chromosome"}},
    "x2": {"field": "x2"}, "y": {"field": "y", "type": "quantitative", "scale": {"domain": [0, 7], "nice": false}, "axis": {"values": [0,1,2,3,4,5,6,7], "tickCount": 10, "format": "d", "title": "-log₁₀(p)"}}}},
  {"data": {"name": "seg"}, "mark": {"type": "rule", "strokeWidth": 2.5},
   "encoding": {"x": {"field": "x", "type": "quantitative"}, "x2": {"field": "x2"}, "y": {"datum": 0, "type": "quantitative"},
    "color": {"field": "x", "type": "quantitative", "legend": null, "scale": {"type": "threshold", "domain": [34,60,91.5,121,151.5,183,209.5,233.5,259.5,284,306,326.5,345,364,383,399,416.5,435.5,452,467,482.5,502.5,526,546.5,567.5,590,611], "range": ["#2b2b2b","#b3b3b3","#2b2b2b","#b3b3b3","#2b2b2b","#b3b3b3","#2b2b2b","#b3b3b3","#2b2b2b","#b3b3b3","#2b2b2b","#b3b3b3","#2b2b2b","#b3b3b3","#2b2b2b","#b3b3b3","#2b2b2b","#b3b3b3","#2b2b2b","#b3b3b3","#2b2b2b","#b3b3b3","#2b2b2b","#b3b3b3","#2b2b2b","#b3b3b3","#2b2b2b","#b3b3b3"]}}}},
  {"data": {"name": "pa"}, "mark": {"type": "circle", "size": 13, "opacity": 1},
   "encoding": {"x": {"field": "x", "type": "quantitative"}, "y": {"field": "y", "type": "quantitative"},
    "color": {"field": "x", "type": "quantitative", "legend": null, "scale": {"type": "threshold", "domain": [34,60,91.5,121,151.5,183,209.5,233.5,259.5,284,306,326.5,345,364,383,399,416.5,435.5,452,467,482.5,502.5,526,546.5,567.5,590,611], "range": ["#2b2b2b","#b3b3b3","#2b2b2b","#b3b3b3","#2b2b2b","#b3b3b3","#2b2b2b","#b3b3b3","#2b2b2b","#b3b3b3","#2b2b2b","#b3b3b3","#2b2b2b","#b3b3b3","#2b2b2b","#b3b3b3","#2b2b2b","#b3b3b3","#2b2b2b","#b3b3b3","#2b2b2b","#b3b3b3","#2b2b2b","#b3b3b3","#2b2b2b","#b3b3b3","#2b2b2b","#b3b3b3"]}}}},
  {"data": {"values": [{"y": 4}]}, "mark": {"type": "rule", "color": "#e36b6b", "strokeWidth": 1.2}, "encoding": {"y": {"field": "y", "type": "quantitative"}}},
  {"data": {"values": [{"y": 3}]}, "mark": {"type": "rule", "color": "#8a8ae6", "strokeWidth": 1.2}, "encoding": {"y": {"field": "y", "type": "quantitative"}}},
  {"data": {"name": "ha"}, "mark": {"type": "circle", "size": 32, "color": "#000", "opacity": 1}, "encoding": {"x": {"field": "x", "type": "quantitative"}, "y": {"field": "y", "type": "quantitative"}}},
  {"data": {"name": "la"}, "mark": {"type": "text", "align": "left", "baseline": "middle", "fontSize": 9.5, "font": "Lato", "color": "#1a1a1a"}, "encoding": {"x": {"field": "x", "type": "quantitative"}, "y": {"field": "y", "type": "quantitative"}, "text": {"field": "t"}}}
 ]},
{"width": 634, "height": 110,
 "title": {"text": "(b)", "subtitle": "\u200b\u00a0\u00a0\u00a0\u00a0\u00a0\u00a0\u00a0\u00a02010Parents vs TOB_WILD", "offset": -27},
 "layer": [
  {"data": {"values": [{"x": 10, "x2": 635, "y": 0}]}, "mark": {"type": "rule", "color": "#9a9a9a", "strokeWidth": 1},
   "encoding": {"x": {"field": "x", "type": "quantitative", "scale": {"domain": [0.3, 653.9], "nice": false, "zero": false}, "axis": {"values": [24,44,76,107,135,168,198,221,246,273,295,317,336,354,374,392,406,427,444,460,474,491,514,538,555,580,600,622], "tickCount": 40, "labelExpr": "indexof([24,44,76,107,135,168,198,221,246,273,295,317,336,354,374,392,406,427,444,460,474,491,514,538,555,580,600,622], datum.value) + 1", "labelOverlap": false, "titlePadding": 11.5, "title": "Chromosome"}},
    "x2": {"field": "x2"}, "y": {"field": "y", "type": "quantitative", "scale": {"domain": [0, 7], "nice": false}, "axis": {"values": [0,1,2,3,4,5,6,7], "tickCount": 10, "format": "d", "title": "-log₁₀(p)"}}}},
  {"data": {"name": "seg"}, "mark": {"type": "rule", "strokeWidth": 2.5},
   "encoding": {"x": {"field": "x", "type": "quantitative"}, "x2": {"field": "x2"}, "y": {"datum": 0, "type": "quantitative"},
    "color": {"field": "x", "type": "quantitative", "legend": null, "scale": {"type": "threshold", "domain": [34,60,91.5,121,151.5,183,209.5,233.5,259.5,284,306,326.5,345,364,383,399,416.5,435.5,452,467,482.5,502.5,526,546.5,567.5,590,611], "range": ["#2b2b2b","#b3b3b3","#2b2b2b","#b3b3b3","#2b2b2b","#b3b3b3","#2b2b2b","#b3b3b3","#2b2b2b","#b3b3b3","#2b2b2b","#b3b3b3","#2b2b2b","#b3b3b3","#2b2b2b","#b3b3b3","#2b2b2b","#b3b3b3","#2b2b2b","#b3b3b3","#2b2b2b","#b3b3b3","#2b2b2b","#b3b3b3","#2b2b2b","#b3b3b3","#2b2b2b","#b3b3b3"]}}}},
  {"data": {"name": "pb"}, "mark": {"type": "circle", "size": 13, "opacity": 1},
   "encoding": {"x": {"field": "x", "type": "quantitative"}, "y": {"field": "y", "type": "quantitative"},
    "color": {"field": "x", "type": "quantitative", "legend": null, "scale": {"type": "threshold", "domain": [34,60,91.5,121,151.5,183,209.5,233.5,259.5,284,306,326.5,345,364,383,399,416.5,435.5,452,467,482.5,502.5,526,546.5,567.5,590,611], "range": ["#2b2b2b","#b3b3b3","#2b2b2b","#b3b3b3","#2b2b2b","#b3b3b3","#2b2b2b","#b3b3b3","#2b2b2b","#b3b3b3","#2b2b2b","#b3b3b3","#2b2b2b","#b3b3b3","#2b2b2b","#b3b3b3","#2b2b2b","#b3b3b3","#2b2b2b","#b3b3b3","#2b2b2b","#b3b3b3","#2b2b2b","#b3b3b3","#2b2b2b","#b3b3b3","#2b2b2b","#b3b3b3"]}}}},
  {"data": {"values": [{"y": 4}]}, "mark": {"type": "rule", "color": "#e36b6b", "strokeWidth": 1.2}, "encoding": {"y": {"field": "y", "type": "quantitative"}}},
  {"data": {"values": [{"y": 3}]}, "mark": {"type": "rule", "color": "#8a8ae6", "strokeWidth": 1.2}, "encoding": {"y": {"field": "y", "type": "quantitative"}}},
  {"data": {"name": "hb"}, "mark": {"type": "circle", "size": 32, "color": "#000", "opacity": 1}, "encoding": {"x": {"field": "x", "type": "quantitative"}, "y": {"field": "y", "type": "quantitative"}}},
  {"data": {"name": "lb"}, "mark": {"type": "text", "align": "left", "baseline": "middle", "fontSize": 9.5, "font": "Lato", "color": "#1a1a1a"}, "encoding": {"x": {"field": "x", "type": "quantitative"}, "y": {"field": "y", "type": "quantitative"}, "text": {"field": "t"}}}
 ]},
{"width": 642, "height": 104,
 "title": {"text": "(c)", "subtitle": "\u200b\u00a0\u00a0\u00a0\u00a0\u00a0\u00a0\u00a0\u00a02011Grandparents vs TOB_WILD", "offset": 7},
 "layer": [
  {"data": {"values": [{"x": 10, "x2": 635, "y": 0}]}, "mark": {"type": "rule", "color": "#9a9a9a", "strokeWidth": 1},
   "encoding": {"x": {"field": "x", "type": "quantitative", "scale": {"domain": [-5.85, 654.9], "nice": false, "zero": false}, "axis": {"values": [24,44,76,107,135,168,198,221,246,273,295,317,336,354,374,392,406,427,444,460,474,491,514,538,555,580,600,622], "tickCount": 40, "labelExpr": "indexof([24,44,76,107,135,168,198,221,246,273,295,317,336,354,374,392,406,427,444,460,474,491,514,538,555,580,600,622], datum.value) + 1", "labelOverlap": false, "titlePadding": 8.5, "title": "Chromosome"}},
    "x2": {"field": "x2"}, "y": {"field": "y", "type": "quantitative", "scale": {"domain": [0, 5], "nice": false}, "axis": {"values": [0,1,2,3,4,5], "tickCount": 10, "format": "d", "title": "-log₁₀(p)"}}}},
  {"data": {"name": "seg"}, "mark": {"type": "rule", "strokeWidth": 2.5},
   "encoding": {"x": {"field": "x", "type": "quantitative"}, "x2": {"field": "x2"}, "y": {"datum": 0, "type": "quantitative"},
    "color": {"field": "x", "type": "quantitative", "legend": null, "scale": {"type": "threshold", "domain": [34,60,91.5,121,151.5,183,209.5,233.5,259.5,284,306,326.5,345,364,383,399,416.5,435.5,452,467,482.5,502.5,526,546.5,567.5,590,611], "range": ["#2b2b2b","#b3b3b3","#2b2b2b","#b3b3b3","#2b2b2b","#b3b3b3","#2b2b2b","#b3b3b3","#2b2b2b","#b3b3b3","#2b2b2b","#b3b3b3","#2b2b2b","#b3b3b3","#2b2b2b","#b3b3b3","#2b2b2b","#b3b3b3","#2b2b2b","#b3b3b3","#2b2b2b","#b3b3b3","#2b2b2b","#b3b3b3","#2b2b2b","#b3b3b3","#2b2b2b","#b3b3b3"]}}}},
  {"data": {"name": "pc"}, "mark": {"type": "circle", "size": 13, "opacity": 1},
   "encoding": {"x": {"field": "x", "type": "quantitative"}, "y": {"field": "y", "type": "quantitative"},
    "color": {"field": "x", "type": "quantitative", "legend": null, "scale": {"type": "threshold", "domain": [34,60,91.5,121,151.5,183,209.5,233.5,259.5,284,306,326.5,345,364,383,399,416.5,435.5,452,467,482.5,502.5,526,546.5,567.5,590,611], "range": ["#2b2b2b","#b3b3b3","#2b2b2b","#b3b3b3","#2b2b2b","#b3b3b3","#2b2b2b","#b3b3b3","#2b2b2b","#b3b3b3","#2b2b2b","#b3b3b3","#2b2b2b","#b3b3b3","#2b2b2b","#b3b3b3","#2b2b2b","#b3b3b3","#2b2b2b","#b3b3b3","#2b2b2b","#b3b3b3","#2b2b2b","#b3b3b3","#2b2b2b","#b3b3b3","#2b2b2b","#b3b3b3"]}}}},
  {"data": {"values": [{"y": 4}]}, "mark": {"type": "rule", "color": "#e36b6b", "strokeWidth": 1.2}, "encoding": {"y": {"field": "y", "type": "quantitative"}}},
  {"data": {"values": [{"y": 3}]}, "mark": {"type": "rule", "color": "#8a8ae6", "strokeWidth": 1.2}, "encoding": {"y": {"field": "y", "type": "quantitative"}}},
  {"data": {"name": "hc"}, "mark": {"type": "circle", "size": 26, "color": "#000", "opacity": 1}, "encoding": {"x": {"field": "x", "type": "quantitative"}, "y": {"field": "y", "type": "quantitative"}}},
  {"data": {"name": "lc"}, "mark": {"type": "text", "align": "left", "baseline": "middle", "fontSize": 9.5, "font": "Lato", "color": "#1a1a1a"}, "encoding": {"x": {"field": "x", "type": "quantitative"}, "y": {"field": "y", "type": "quantitative"}, "text": {"field": "t"}}}
 ]},
{"width": 642, "height": 104,
 "title": {"text": "(d)", "subtitle": "\u200b\u00a0\u00a0\u00a0\u00a0\u00a0\u00a0\u00a0\u00a02011Parents vs TOB_WILD", "offset": 10},
 "layer": [
  {"data": {"values": [{"x": 10, "x2": 635, "y": 0}]}, "mark": {"type": "rule", "color": "#9a9a9a", "strokeWidth": 1},
   "encoding": {"x": {"field": "x", "type": "quantitative", "scale": {"domain": [-2.6, 653.8], "nice": false, "zero": false}, "axis": {"values": [24,44,76,107,135,168,198,221,246,273,295,317,336,354,374,392,406,427,444,460,474,491,514,538,555,580,600,622], "tickCount": 40, "labelExpr": "indexof([24,44,76,107,135,168,198,221,246,273,295,317,336,354,374,392,406,427,444,460,474,491,514,538,555,580,600,622], datum.value) + 1", "labelOverlap": false, "titlePadding": 9.5, "title": "Chromosome"}},
    "x2": {"field": "x2"}, "y": {"field": "y", "type": "quantitative", "scale": {"domain": [0, 6], "nice": false}, "axis": {"values": [0,1,2,3,4,5,6], "tickCount": 10, "format": "d", "title": "-log₁₀(p)"}}}},
  {"data": {"name": "seg"}, "mark": {"type": "rule", "strokeWidth": 2.5},
   "encoding": {"x": {"field": "x", "type": "quantitative"}, "x2": {"field": "x2"}, "y": {"datum": 0, "type": "quantitative"},
    "color": {"field": "x", "type": "quantitative", "legend": null, "scale": {"type": "threshold", "domain": [34,60,91.5,121,151.5,183,209.5,233.5,259.5,284,306,326.5,345,364,383,399,416.5,435.5,452,467,482.5,502.5,526,546.5,567.5,590,611], "range": ["#2b2b2b","#b3b3b3","#2b2b2b","#b3b3b3","#2b2b2b","#b3b3b3","#2b2b2b","#b3b3b3","#2b2b2b","#b3b3b3","#2b2b2b","#b3b3b3","#2b2b2b","#b3b3b3","#2b2b2b","#b3b3b3","#2b2b2b","#b3b3b3","#2b2b2b","#b3b3b3","#2b2b2b","#b3b3b3","#2b2b2b","#b3b3b3","#2b2b2b","#b3b3b3","#2b2b2b","#b3b3b3"]}}}},
  {"data": {"name": "pd"}, "mark": {"type": "circle", "size": 13, "opacity": 1},
   "encoding": {"x": {"field": "x", "type": "quantitative"}, "y": {"field": "y", "type": "quantitative"},
    "color": {"field": "x", "type": "quantitative", "legend": null, "scale": {"type": "threshold", "domain": [34,60,91.5,121,151.5,183,209.5,233.5,259.5,284,306,326.5,345,364,383,399,416.5,435.5,452,467,482.5,502.5,526,546.5,567.5,590,611], "range": ["#2b2b2b","#b3b3b3","#2b2b2b","#b3b3b3","#2b2b2b","#b3b3b3","#2b2b2b","#b3b3b3","#2b2b2b","#b3b3b3","#2b2b2b","#b3b3b3","#2b2b2b","#b3b3b3","#2b2b2b","#b3b3b3","#2b2b2b","#b3b3b3","#2b2b2b","#b3b3b3","#2b2b2b","#b3b3b3","#2b2b2b","#b3b3b3","#2b2b2b","#b3b3b3","#2b2b2b","#b3b3b3"]}}}},
  {"data": {"values": [{"y": 4}]}, "mark": {"type": "rule", "color": "#e36b6b", "strokeWidth": 1.2}, "encoding": {"y": {"field": "y", "type": "quantitative"}}},
  {"data": {"values": [{"y": 3}]}, "mark": {"type": "rule", "color": "#8a8ae6", "strokeWidth": 1.2}, "encoding": {"y": {"field": "y", "type": "quantitative"}}},
  {"data": {"name": "hd"}, "mark": {"type": "circle", "size": 30, "color": "#000", "opacity": 1}, "encoding": {"x": {"field": "x", "type": "quantitative"}, "y": {"field": "y", "type": "quantitative"}}},
  {"data": {"name": "ld"}, "mark": {"type": "text", "align": "left", "baseline": "middle", "fontSize": 9.5, "font": "Lato", "color": "#1a1a1a"}, "encoding": {"x": {"field": "x", "type": "quantitative"}, "y": {"field": "y", "type": "quantitative"}, "text": {"field": "t"}}}
 ]},
{"width": 640, "height": 104,
 "title": {"text": "(e)", "subtitle": "\u200b\u00a0\u00a0\u00a0\u00a0\u00a0\u00a0\u00a0\u00a02012Grandparents vs TOB_WILD", "offset": -22},
 "layer": [
  {"data": {"values": [{"x": 10, "x2": 635, "y": 0}]}, "mark": {"type": "rule", "color": "#9a9a9a", "strokeWidth": 1},
   "encoding": {"x": {"field": "x", "type": "quantitative", "scale": {"domain": [-1.6, 654.8], "nice": false, "zero": false}, "axis": {"values": [24,44,76,107,135,168,198,221,246,273,295,317,336,354,374,392,406,427,444,460,474,491,514,538,555,580,600,622], "tickCount": 40, "labelExpr": "indexof([24,44,76,107,135,168,198,221,246,273,295,317,336,354,374,392,406,427,444,460,474,491,514,538,555,580,600,622], datum.value) + 1", "labelOverlap": false, "titlePadding": 10.5, "title": "Chromosome"}},
    "x2": {"field": "x2"}, "y": {"field": "y", "type": "quantitative", "scale": {"domain": [0, 7], "nice": false}, "axis": {"values": [0,1,2,3,4,5,6,7], "tickCount": 10, "format": "d", "title": "-log₁₀(p)"}}}},
  {"data": {"name": "seg"}, "mark": {"type": "rule", "strokeWidth": 2.5},
   "encoding": {"x": {"field": "x", "type": "quantitative"}, "x2": {"field": "x2"}, "y": {"datum": 0, "type": "quantitative"},
    "color": {"field": "x", "type": "quantitative", "legend": null, "scale": {"type": "threshold", "domain": [34,60,91.5,121,151.5,183,209.5,233.5,259.5,284,306,326.5,345,364,383,399,416.5,435.5,452,467,482.5,502.5,526,546.5,567.5,590,611], "range": ["#2b2b2b","#b3b3b3","#2b2b2b","#b3b3b3","#2b2b2b","#b3b3b3","#2b2b2b","#b3b3b3","#2b2b2b","#b3b3b3","#2b2b2b","#b3b3b3","#2b2b2b","#b3b3b3","#2b2b2b","#b3b3b3","#2b2b2b","#b3b3b3","#2b2b2b","#b3b3b3","#2b2b2b","#b3b3b3","#2b2b2b","#b3b3b3","#2b2b2b","#b3b3b3","#2b2b2b","#b3b3b3"]}}}},
  {"data": {"name": "pe"}, "mark": {"type": "circle", "size": 13, "opacity": 1},
   "encoding": {"x": {"field": "x", "type": "quantitative"}, "y": {"field": "y", "type": "quantitative"},
    "color": {"field": "x", "type": "quantitative", "legend": null, "scale": {"type": "threshold", "domain": [34,60,91.5,121,151.5,183,209.5,233.5,259.5,284,306,326.5,345,364,383,399,416.5,435.5,452,467,482.5,502.5,526,546.5,567.5,590,611], "range": ["#2b2b2b","#b3b3b3","#2b2b2b","#b3b3b3","#2b2b2b","#b3b3b3","#2b2b2b","#b3b3b3","#2b2b2b","#b3b3b3","#2b2b2b","#b3b3b3","#2b2b2b","#b3b3b3","#2b2b2b","#b3b3b3","#2b2b2b","#b3b3b3","#2b2b2b","#b3b3b3","#2b2b2b","#b3b3b3","#2b2b2b","#b3b3b3","#2b2b2b","#b3b3b3","#2b2b2b","#b3b3b3"]}}}},
  {"data": {"values": [{"y": 4}]}, "mark": {"type": "rule", "color": "#e36b6b", "strokeWidth": 1.2}, "encoding": {"y": {"field": "y", "type": "quantitative"}}},
  {"data": {"values": [{"y": 3}]}, "mark": {"type": "rule", "color": "#8a8ae6", "strokeWidth": 1.2}, "encoding": {"y": {"field": "y", "type": "quantitative"}}},
  {"data": {"name": "he"}, "mark": {"type": "circle", "size": 32, "color": "#000", "opacity": 1}, "encoding": {"x": {"field": "x", "type": "quantitative"}, "y": {"field": "y", "type": "quantitative"}}},
  {"data": {"name": "le"}, "mark": {"type": "text", "align": "left", "baseline": "middle", "fontSize": 9.5, "font": "Lato", "color": "#1a1a1a"}, "encoding": {"x": {"field": "x", "type": "quantitative"}, "y": {"field": "y", "type": "quantitative"}, "text": {"field": "t"}}}
 ]},
{"width": 632, "height": 104,
 "title": {"text": "(f)", "subtitle": "\u200b\u00a0\u00a0\u00a0\u00a0\u00a0\u00a0\u00a0\u00a02012Parents vs TOB_WILD", "offset": 2},
 "layer": [
  {"data": {"values": [{"x": 10, "x2": 635, "y": 0}]}, "mark": {"type": "rule", "color": "#9a9a9a", "strokeWidth": 1},
   "encoding": {"x": {"field": "x", "type": "quantitative", "scale": {"domain": [7.6, 654.7], "nice": false, "zero": false}, "axis": {"values": [24,44,76,107,135,168,198,221,246,273,295,317,336,354,374,392,406,427,444,460,474,491,514,538,555,580,600,622], "tickCount": 40, "labelExpr": "indexof([24,44,76,107,135,168,198,221,246,273,295,317,336,354,374,392,406,427,444,460,474,491,514,538,555,580,600,622], datum.value) + 1", "labelOverlap": false, "titlePadding": 7.5, "title": "Chromosome"}},
    "x2": {"field": "x2"}, "y": {"field": "y", "type": "quantitative", "scale": {"domain": [0, 7], "nice": false}, "axis": {"values": [0,1,2,3,4,5,6,7], "tickCount": 10, "format": "d", "title": "-log₁₀(p)"}}}},
  {"data": {"name": "seg"}, "mark": {"type": "rule", "strokeWidth": 2.5},
   "encoding": {"x": {"field": "x", "type": "quantitative"}, "x2": {"field": "x2"}, "y": {"datum": 0, "type": "quantitative"},
    "color": {"field": "x", "type": "quantitative", "legend": null, "scale": {"type": "threshold", "domain": [34,60,91.5,121,151.5,183,209.5,233.5,259.5,284,306,326.5,345,364,383,399,416.5,435.5,452,467,482.5,502.5,526,546.5,567.5,590,611], "range": ["#2b2b2b","#b3b3b3","#2b2b2b","#b3b3b3","#2b2b2b","#b3b3b3","#2b2b2b","#b3b3b3","#2b2b2b","#b3b3b3","#2b2b2b","#b3b3b3","#2b2b2b","#b3b3b3","#2b2b2b","#b3b3b3","#2b2b2b","#b3b3b3","#2b2b2b","#b3b3b3","#2b2b2b","#b3b3b3","#2b2b2b","#b3b3b3","#2b2b2b","#b3b3b3","#2b2b2b","#b3b3b3"]}}}},
  {"data": {"name": "pf"}, "mark": {"type": "circle", "size": 13, "opacity": 1},
   "encoding": {"x": {"field": "x", "type": "quantitative"}, "y": {"field": "y", "type": "quantitative"},
    "color": {"field": "x", "type": "quantitative", "legend": null, "scale": {"type": "threshold", "domain": [34,60,91.5,121,151.5,183,209.5,233.5,259.5,284,306,326.5,345,364,383,399,416.5,435.5,452,467,482.5,502.5,526,546.5,567.5,590,611], "range": ["#2b2b2b","#b3b3b3","#2b2b2b","#b3b3b3","#2b2b2b","#b3b3b3","#2b2b2b","#b3b3b3","#2b2b2b","#b3b3b3","#2b2b2b","#b3b3b3","#2b2b2b","#b3b3b3","#2b2b2b","#b3b3b3","#2b2b2b","#b3b3b3","#2b2b2b","#b3b3b3","#2b2b2b","#b3b3b3","#2b2b2b","#b3b3b3","#2b2b2b","#b3b3b3","#2b2b2b","#b3b3b3"]}}}},
  {"data": {"values": [{"y": 4}]}, "mark": {"type": "rule", "color": "#e36b6b", "strokeWidth": 1.2}, "encoding": {"y": {"field": "y", "type": "quantitative"}}},
  {"data": {"values": [{"y": 3}]}, "mark": {"type": "rule", "color": "#8a8ae6", "strokeWidth": 1.2}, "encoding": {"y": {"field": "y", "type": "quantitative"}}},
  {"data": {"name": "hf"}, "mark": {"type": "circle", "size": 32, "color": "#000", "opacity": 1}, "encoding": {"x": {"field": "x", "type": "quantitative"}, "y": {"field": "y", "type": "quantitative"}}},
  {"data": {"name": "lf"}, "mark": {"type": "text", "align": "left", "baseline": "middle", "fontSize": 9.5, "font": "Lato", "color": "#1a1a1a"}, "encoding": {"x": {"field": "x", "type": "quantitative"}, "y": {"field": "y", "type": "quantitative"}, "text": {"field": "t"}}}
 ]}
]
}
